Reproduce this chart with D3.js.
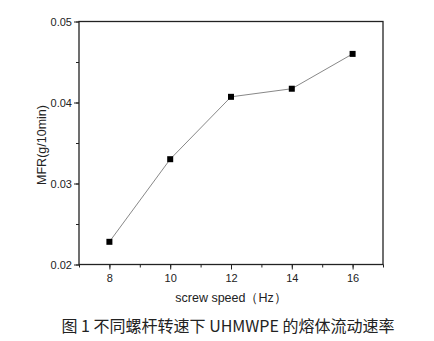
<!DOCTYPE html>
<html>
<head>
<meta charset="utf-8">
<script src="https://cdn.jsdelivr.net/npm/d3@7"></script>
<style>
  body { margin: 0; background: #fff; }
  text { font-family: "Liberation Sans", Arial, sans-serif; fill: #222; }
</style>
</head>
<body>
<div class="chart"></div>
<script>
// 数据
const speeds = [8, 10, 12, 14, 16];
const mfr = [0.0228, 0.0330, 0.0407, 0.0417, 0.0460];
const xTicks = [8, 10, 12, 14, 16];
const yTicks = [0.02, 0.03, 0.04, 0.05];

const width = 434, height = 341;
const margin = { left: 79, top: 21.5, right: 383, bottom: 264.5 };

const svg = d3.select(".chart")
  .append("svg")
  .attr("width", width)
  .attr("height", height);

// 比例尺
const x = d3.scaleLinear().domain([7, 17]).range([margin.left, margin.right]);
const y = d3.scaleLinear().domain([0.02, 0.05]).range([margin.bottom, margin.top]);

// 边框
svg.append("rect")
  .attr("x", margin.left)
  .attr("y", margin.top)
  .attr("width", margin.right - margin.left)
  .attr("height", margin.bottom - margin.top)
  .attr("fill", "none")
  .attr("stroke", "#222")
  .attr("stroke-width", 1.3);

// 次刻度
svg.append("g")
  .attr("transform", "translate(0," + margin.bottom + ")")
  .call(d3.axisBottom(x).tickValues(d3.range(7, 18, 1)).tickSize(3).tickFormat(""))
  .call(g => g.select(".domain").remove());
svg.append("g")
  .attr("transform", "translate(" + margin.left + ",0)")
  .call(d3.axisLeft(y).tickValues(d3.range(0.02, 0.0501, 0.005)).tickSize(3).tickFormat(""))
  .call(g => g.select(".domain").remove());

// 主刻度
const xAxis = svg.append("g")
  .attr("transform", "translate(0," + margin.bottom + ")")
  .call(d3.axisBottom(x).tickValues(xTicks).tickSize(5).tickPadding(5).tickFormat(d3.format("d")));
xAxis.select(".domain").remove();
xAxis.selectAll("text").style("font-size", "11px").attr("fill", "#222");

const yAxis = svg.append("g")
  .attr("transform", "translate(" + margin.left + ",0)")
  .call(d3.axisLeft(y).tickValues(yTicks).tickSize(5).tickPadding(2).tickFormat(d3.format(".2f")));
yAxis.select(".domain").remove();
yAxis.selectAll("text").style("font-size", "11px").attr("fill", "#222");

svg.selectAll(".tick line").attr("stroke", "#222");

// 折线
const line = d3.line()
  .x((d, i) => x(speeds[i]))
  .y(d => y(d));

svg.append("path")
  .datum(mfr)
  .attr("d", line)
  .attr("fill", "none")
  .attr("stroke", "#888")
  .attr("stroke-width", 1);

svg.selectAll(".pt")
  .data(mfr)
  .enter()
  .append("rect")
  .attr("class", "pt")
  .attr("x", (d, i) => x(speeds[i]) - 3)
  .attr("y", d => y(d) - 3)
  .attr("width", 6)
  .attr("height", 6)
  .attr("fill", "#000");

// 轴标题
svg.append("text")
  .attr("x", (margin.left + margin.right) / 2)
  .attr("y", 302)
  .attr("text-anchor", "middle")
  .style("font-size", "12.5px")
  .text("screw speed（Hz）");

svg.append("text")
  .attr("transform", "translate(46,145) rotate(-90)")
  .attr("text-anchor", "middle")
  .style("font-size", "12.5px")
  .text("MFR(g/10min)");

// 图题
svg.append("text")
  .attr("x", 228)
  .attr("y", 332)
  .attr("text-anchor", "middle")
  .style("font-family", "'Noto Sans CJK SC', sans-serif")
  .style("font-size", "16px")
  .attr("fill", "#000")
  .text("图 1 不同螺杆转速下 UHMWPE 的熔体流动速率");
</script>
</body>
</html>
